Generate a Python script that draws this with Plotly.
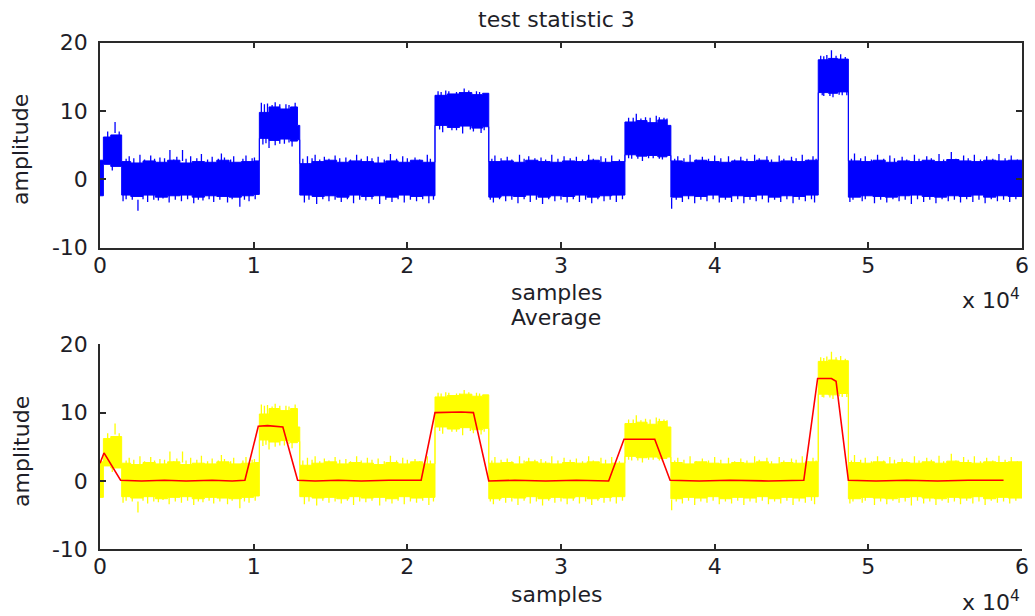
import plotly.graph_objects as go

# ---------------- data (samples, amplitude) ----------------
# dense body of the noisy test statistic (edges of the band)
env_x = [0, 220, 700, 1410, 2000, 2800, 3600, 4400, 5200, 6000, 6800, 7600, 8400, 9200, 10000,
         10370, 11000, 11700, 12400, 12850,
         13000, 13800, 14600, 15400, 16200, 17000, 17800, 18600, 19400, 20200, 21000,
         21800, 22600, 23400, 24200, 24900,
         25300, 26100, 26900, 27700, 28500, 29300, 30100, 30900, 31700, 32500, 33300,
         34160, 34900, 35600, 36300, 36900,
         37150, 37900, 38700, 39500, 40300, 41100, 41900, 42700, 43500, 44300, 45100, 45900,
         46740, 47400, 48000,
         48700, 49500, 50300, 51100, 51900, 52700, 53500, 54300, 55100, 55900, 56700, 57500,
         58300, 59100, 60000]
env_hi = [2.8, 6.2, 6.5, 2.6, 2.4, 2.7, 2.5, 2.8, 2.4, 2.6, 2.5, 2.8, 2.5, 2.6, 2.7,
          9.8, 10.6, 10.3, 10.6, 7.9,
          2.3, 2.6, 2.8, 2.5, 2.7, 2.6, 2.4, 2.7, 2.5, 2.8, 2.5,
          12.3, 12.5, 12.7, 12.4, 12.6,
          2.6, 2.7, 2.5, 2.8, 2.6, 2.5, 2.7, 2.6, 2.8, 2.5, 2.6,
          8.4, 8.6, 8.3, 8.7, 7.9,
          2.7, 2.5, 2.8, 2.6, 2.5, 2.7, 2.6, 2.8, 2.5, 2.7, 2.6, 2.8,
          17.5, 17.7, 17.6,
          2.7, 2.6, 2.8, 2.5, 2.7, 2.6, 2.8, 2.6, 2.9, 2.7, 2.6, 2.8,
          2.7, 2.8, 2.8]
env_lo = [-2.4, 2.2, 1.9, -2.3, -2.5, -2.3, -2.6, -2.4, -2.3, -2.6, -2.4, -2.5, -2.6, -2.4, -2.2,
          6.0, 5.7, 5.9, 5.6, 5.8,
          -2.3, -2.5, -2.4, -2.6, -2.3, -2.5, -2.4, -2.6, -2.3, -2.5, -2.4,
          7.9, 7.6, 7.8, 7.5, 7.7,
          -2.6, -2.4, -2.5, -2.3, -2.6, -2.4, -2.5, -2.3, -2.6, -2.4, -2.3,
          3.6, 3.4, 3.5, 3.3, 3.5,
          -2.6, -2.4, -2.5, -2.3, -2.6, -2.4, -2.5, -2.3, -2.6, -2.4, -2.5, -2.3,
          12.7, 12.6, 12.8,
          -2.6, -2.4, -2.5, -2.6, -2.4, -2.3, -2.5, -2.6, -2.4, -2.5, -2.3, -2.6,
          -2.4, -2.5, -2.5]

# large noise spikes sticking out of the band: position, tip value
spike_up_x = [500, 980, 1250, 1900, 2600, 3300, 3900, 4550, 5000, 5370, 5900, 6600, 7300, 7900,
              8700, 9500, 10050, 10500, 10900, 11400, 12100, 12700, 13500, 14000, 14600, 15300,
              16000, 16700, 17400, 18100, 18900, 19700, 20500, 21300, 22000, 22500, 23200,
              23700, 24500, 25700, 26500, 27300, 27900, 28700, 29400, 30200, 31000, 31800,
              32600, 33300, 34400, 34900, 35500, 36200, 36700, 37600, 38400, 39200, 40000,
              40900, 41700, 42600, 43400, 44200, 45000, 45700, 46400, 46900, 47300, 47600,
              48200, 49100, 49800, 50600, 51400, 52200, 53000, 53800, 54600, 55400, 56200,
              56900, 57700, 58500, 59300]
spike_up_y = [7.0, 8.4, 7.0, 3.4, 3.6, 3.5, 3.2, 4.3, 3.3, 4.3, 3.4, 3.7, 3.3, 3.8,
              3.4, 3.5, 3.2, 11.2, 11.1, 11.3, 11.0, 11.2, 3.4, 3.6, 3.3, 3.5,
              3.2, 3.6, 3.4, 3.3, 3.7, 3.4, 3.2, 3.6, 12.9, 13.0, 12.8,
              13.3, 12.9, 3.5, 3.3, 3.6, 3.4, 3.2, 3.6, 3.4, 3.3, 3.6,
              3.4, 3.5, 9.0, 9.6, 9.1, 9.3, 9.0, 3.4, 3.6, 3.3, 3.5,
              3.4, 3.3, 3.6, 3.4, 3.5, 3.3, 3.6, 3.4, 18.1, 18.2, 18.9,
              18.3, 3.8, 3.4, 3.6, 3.5, 3.3, 3.6, 3.4, 3.7, 4.0, 3.5,
              3.6, 3.4, 3.7, 3.5]
spike_dn_x = [800, 1500, 2470, 3100, 3800, 4500, 5300, 6100, 6700, 7400, 8300, 9100, 9700,
              10600, 11000, 11400, 12000, 12500, 13300, 14100, 14900, 15700, 16500, 17300,
              18200, 19000, 19800, 20600, 21400, 22300, 22900, 23600, 24300, 24800, 25600,
              26400, 27200, 28000, 28800, 29600, 30400, 31200, 32000, 32800, 33600, 34600,
              35300, 36000, 36600, 37200, 37900, 38700, 39500, 40300, 41100, 41900, 42700,
              43500, 44300, 45100, 45900, 46500, 47100, 47700, 48300, 48800, 49600, 50400,
              51200, 52000, 52800, 53600, 54400, 55200, 56000, 56800, 57600, 58400, 59200]
spike_dn_y = [1.3, -3.2, -4.6, -3.3, -3.1, -3.4, -3.2, -3.5, -3.1, -3.3, -3.4, -4.0, -3.2,
              5.1, 4.6, 5.0, 5.2, 4.8, -3.4, -3.6, -3.2, -3.3, -3.5, -3.1,
              -3.6, -3.3, -3.4, -3.2, -3.5, 6.9, 7.2, 6.7, 7.0, 6.8, -3.4,
              -3.2, -3.5, -3.3, -3.6, -3.2, -3.4, -3.3, -3.5, -3.2, -3.3, 3.0,
              2.7, 3.1, 2.9, -4.3, -3.3, -3.5, -3.2, -3.4, -3.3, -3.5, -3.2,
              -3.4, -3.3, -3.5, -3.2, -3.4, 12.2, 12.0, 12.3, -3.3, -3.2, -3.5,
              -3.4, -3.2, -3.6, -3.3, -3.5, -3.2, -3.4, -3.3, -3.5, -3.2, -3.3]

# small noise spikes (fine texture of the band edges)
fine_up_x = [1700, 2200, 2900, 3550, 4200, 4800, 5600, 6300, 7000, 7700, 8100, 8500, 9300, 9900,
             10700, 11200, 11700, 12300,
             13200, 13800, 14300, 14900, 15600, 16300, 17000, 17700, 18500, 19300, 20000,
             20800, 21500,
             22200, 22700, 23400, 24000, 24700,
             25500, 26100, 26800, 27600, 28300, 29000, 29800, 30600, 31400, 32100, 32900, 33800,
             34700, 35200, 35800, 36400, 36900,
             37400, 38000, 38800, 39600, 40400, 41300, 42100, 42900, 43700, 44500, 45300,
             46100, 46600,
             47100, 47900, 48500,
             48900, 49500, 50200, 51000, 51700, 52500, 53300, 54100, 54900, 55700, 56500,
             57300, 58100, 58900, 59700]
fine_up_y = [3.0, 3.1, 2.9, 3.0, 3.1, 2.9, 3.0, 3.1, 2.9, 3.0, 3.2, 2.9, 3.0, 3.1,
             11.0, 10.9, 11.0, 10.9,
             3.0, 3.1, 2.9, 3.0, 3.1, 2.9, 3.0, 3.1, 2.9, 3.0, 3.1,
             2.9, 3.0,
             12.8, 12.9, 12.8, 13.0, 12.8,
             3.0, 3.1, 2.9, 3.0, 3.1, 2.9, 3.0, 3.1, 2.9, 3.0, 3.1, 2.9,
             9.0, 8.9, 9.0, 9.1, 8.9,
             3.0, 3.1, 2.9, 3.0, 3.1, 2.9, 3.0, 3.1, 2.9, 3.0, 3.1,
             2.9, 3.0,
             18.0, 18.1, 17.9,
             3.0, 3.1, 2.9, 3.0, 3.1, 2.9, 3.0, 3.1, 2.9, 3.0, 3.1,
             2.9, 3.0, 3.1, 2.9]
fine_dn_x = [1700, 2100, 2800, 3500, 4100, 4900, 5700, 6400, 7100, 7800, 8600, 9400, 10100,
             10800, 11700, 12300,
             13600, 14500, 15300, 16100, 16900, 17700, 18600, 19400, 20200, 21000, 21700,
             22100, 23200, 24100, 25000,
             25400, 26000, 26800, 27600, 28400, 29200, 30000, 30800, 31600, 32400, 33200, 34000,
             34400, 35000, 35700, 36400,
             37500, 38300, 39100, 39900, 40700, 41500, 42300, 43100, 43900, 44700, 45500, 46300,
             47000, 47500, 48100, 48600,
             49000, 49800, 50800, 51600, 52400, 53200, 54000, 54800, 55600, 56400, 57200,
             58000, 58800, 59600]
fine_dn_y = [-2.9, -3.0, -2.9, -3.0, -2.8, -3.0, -2.9, -3.0, -2.9, -3.0, -2.9, -3.0, -2.9,
             5.3, 5.2, 5.4,
             -3.0, -2.9, -3.0, -2.9, -3.0, -2.9, -3.0, -2.9, -3.0, -2.9, -3.0,
             7.3, 7.2, 7.3, 7.2,
             -3.0, -2.9, -3.0, -2.9, -3.0, -2.9, -3.0, -2.9, -3.0, -2.9, -3.0, -2.9,
             3.1, 3.0, 3.1, 3.0,
             -3.0, -2.9, -3.0, -2.9, -3.0, -2.9, -3.0, -2.9, -3.0, -2.9, -3.0, -2.9,
             12.3, 12.2, 12.4, 12.3,
             -3.0, -2.9, -3.0, -2.9, -3.0, -2.9, -3.0, -2.9, -3.0, -2.9, -3.0,
             -2.9, -3.0, -2.9]

# moving average (red line)
avg_x = [0, 260, 1340, 2700, 4200, 5600, 7300, 8600, 9430, 10300, 10900, 11900, 12860,
         14000, 15500, 17000, 18800, 20900, 21800, 23500, 24300, 25300, 27000, 29000,
         31000, 33100, 34100, 36100, 37100, 39000, 41000, 43500, 45800, 46700, 47600,
         47900, 48700, 50500, 52500, 54500, 56500, 58800]
avg_y = [2.6, 4.1, 0.1, 0.0, 0.1, 0.0, 0.1, 0.0, 0.1, 8.0, 8.1, 7.9, 0.1,
         0.0, 0.1, 0.0, 0.1, 0.1, 10.0, 10.1, 10.0, 0.0, 0.1, 0.0,
         0.1, 0.0, 6.1, 6.1, 0.1, 0.0, 0.1, 0.0, 0.1, 15.0, 15.0,
         14.6, 0.1, 0.0, 0.1, 0.0, 0.1, 0.1]

x_ticks = [0, 10000, 20000, 30000, 40000, 50000, 60000]
x_ticktext = ["0", "1", "2", "3", "4", "5", "6"]
y_ticks = [-10, 0, 10, 20]
y_ticktext = ["-10", "0", "10", "20"]

# ---------------- figure ----------------
W, H = 1035, 616
ML, MR = 100, 13
FONT = "DejaVu Sans, Arial, sans-serif"
TXT = "#1e1e28"
AX = "#2a2a2a"


def spike_path(xs, ys, inward):
    # vertical strokes from inside the band out to each tip
    px_, py_ = [], []
    for x, y in zip(xs, ys):
        px_ += [x, x, None]
        py_ += [y + inward, y, None]
    return px_, py_


up_px, up_py = spike_path(spike_up_x + fine_up_x, spike_up_y + fine_up_y, -1.6)
dn_px, dn_py = spike_path(spike_dn_x + fine_dn_x, spike_dn_y + fine_dn_y, 1.6)

fig = go.Figure()

for color, xa, ya in (("#0000ff", "x", "y"), ("#ffff00", "x2", "y2")):
    fig.add_trace(go.Scatter(x=env_x, y=env_lo, mode="lines",
                             line=dict(color=color, width=1, shape="hv"),
                             xaxis=xa, yaxis=ya, hoverinfo="skip", showlegend=False))
    fig.add_trace(go.Scatter(x=env_x, y=env_hi, mode="lines",
                             line=dict(color=color, width=1, shape="hv"),
                             fill="tonexty", fillcolor=color,
                             xaxis=xa, yaxis=ya, showlegend=False))
    fig.add_trace(go.Scatter(x=up_px, y=up_py, mode="lines", line=dict(color=color, width=1.3),
                             xaxis=xa, yaxis=ya, hoverinfo="skip", showlegend=False))
    fig.add_trace(go.Scatter(x=dn_px, y=dn_py, mode="lines", line=dict(color=color, width=1.3),
                             xaxis=xa, yaxis=ya, hoverinfo="skip", showlegend=False))

fig.add_trace(go.Scatter(x=avg_x, y=avg_y, mode="lines", line=dict(color="#ff0000", width=1.6),
                         xaxis="x2", yaxis="y2", showlegend=False))


def ydom(top_px, bot_px):
    return [1 - bot_px / H, 1 - top_px / H]


common_x = dict(range=[0, 60000], tickmode="array", tickvals=x_ticks, ticktext=x_ticktext,
                ticks="inside", ticklen=6, tickwidth=1.5, tickcolor=AX, showline=True,
                linecolor=AX, linewidth=1.5, showgrid=False, zeroline=False, automargin=False,
                ticklabelstandoff=-3,
                tickfont=dict(family=FONT, size=22, color=TXT), domain=[0, 1])
common_y = dict(range=[-10, 20], tickmode="array", tickvals=y_ticks, ticktext=y_ticktext,
                ticks="inside", ticklen=6, tickwidth=1.5, tickcolor=AX, showline=True,
                linecolor=AX, linewidth=1.5, showgrid=False, zeroline=False, automargin=False,
                ticklabelstandoff=6,
                tickfont=dict(family=FONT, size=22, color=TXT))

fig.update_layout(
    width=W, height=H, autosize=False,
    margin=dict(l=ML, r=MR, t=0, b=0, pad=0, autoexpand=False),
    paper_bgcolor="white", plot_bgcolor="white",
    xaxis=dict(common_x, anchor="y", mirror="ticks"),
    yaxis=dict(common_y, anchor="x", mirror="ticks", domain=ydom(42.7, 247.7)),
    xaxis2=dict(common_x, anchor="y2", mirror=False),
    yaxis2=dict(common_y, anchor="x2", mirror=False, domain=ydom(344.3, 549.3)),
)


def px(xp):
    return (xp - ML) / (W - ML - MR)


def py(yp):
    return 1 - yp / H


def label(text, xp, yp, angle=0, size=22, xanchor="center"):
    fig.add_annotation(text=text, x=px(xp), y=py(yp), xref="paper", yref="paper",
                       showarrow=False, textangle=angle, xanchor=xanchor, yanchor="middle",
                       font=dict(family=FONT, size=size, color=TXT))


label("test statistic 3", 556, 19)
label("samples", 556, 292)
label("x 10<sup>4</sup>", 1022, 299, xanchor="right")
label("amplitude", 21, 150, angle=-90)

label("Average", 556, 317)
label("samples", 556, 594)
label("x 10<sup>4</sup>", 1022, 601, xanchor="right")
label("amplitude", 21, 452, angle=-90)

fig.write_html("out.html")
